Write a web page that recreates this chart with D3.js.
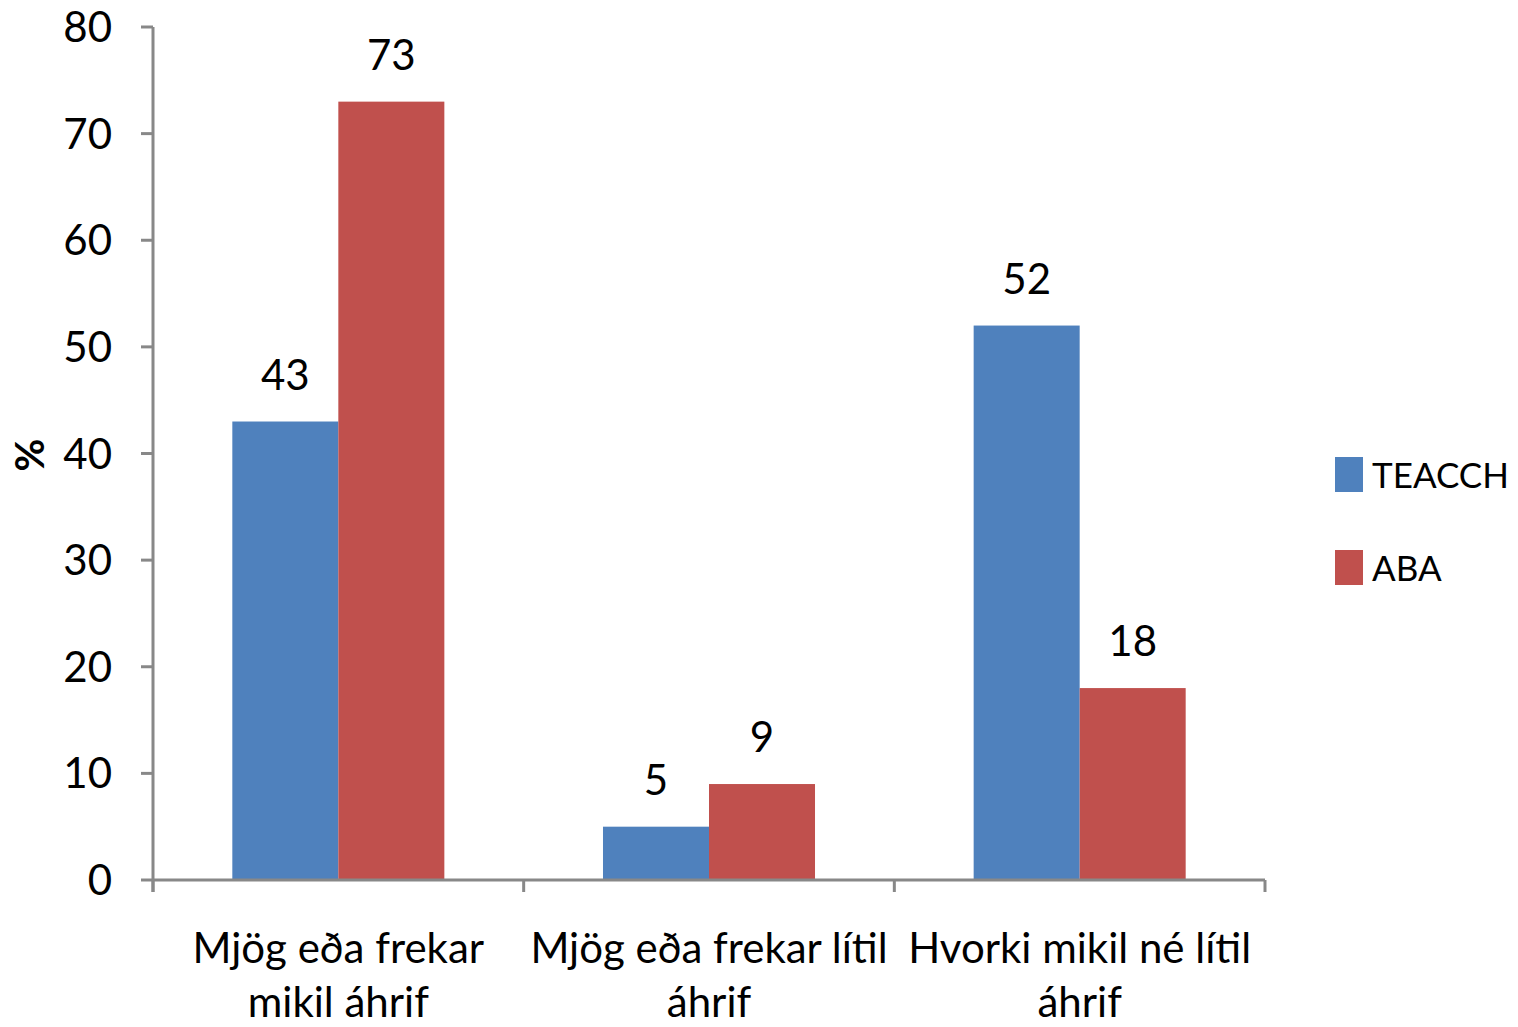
<!DOCTYPE html>
<html>
<head>
<meta charset="utf-8">
<script src="https://cdn.jsdelivr.net/npm/d3@7"></script>
<style>
  body { margin: 0; background: #fff; }
  text { font-family: Lato, "Open Sans", sans-serif; fill: #000; }
</style>
</head>
<body>
<svg id="chart" width="1518" height="1027"></svg>
<script>
// data
const categories = [["Mjög eða frekar", "mikil áhrif"], ["Mjög eða frekar lítil", "áhrif"], ["Hvorki mikil  né lítil", "áhrif"]];
const series = ["TEACCH", "ABA"];
const teacch = [43, 5, 52];
const aba = [73, 9, 18];
const yTicks = [0, 10, 20, 30, 40, 50, 60, 70, 80];
const colors = ["#4F81BD", "#C0504D"];

const svg = d3.select("#chart");
const plot = { left: 153, right: 1265, top: 27, bottom: 880 };

const catKeys = categories.map((c, i) => i);
const x0 = d3.scaleBand().domain(catKeys).range([plot.left, plot.right]).paddingInner(0.428).paddingOuter(0.214);
const x1 = d3.scaleBand().domain(series).range([0, x0.bandwidth()]);
const y = d3.scaleLinear().domain([0, 80]).range([plot.bottom, plot.top]);

const values = [teacch, aba];

// bars
series.forEach((s, si) => {
    svg.append("g").selectAll("rect")
        .data(values[si])
        .join("rect")
        .attr("x", (d, i) => x0(i) + x1(s))
        .attr("y", d => y(d))
        .attr("width", x1.bandwidth())
        .attr("height", d => plot.bottom - y(d))
        .attr("fill", colors[si]);

    svg.append("g").selectAll("text")
        .data(values[si])
        .join("text")
        .attr("x", (d, i) => x0(i) + x1(s) + x1.bandwidth() / 2)
        .attr("y", d => y(d) - 32)
        .attr("text-anchor", "middle")
        .attr("font-size", 42)
        .text(d => d);
});

// y axis
const yAxis = svg.append("g");
yAxis.append("line")
    .attr("x1", plot.left).attr("x2", plot.left).attr("y1", plot.top).attr("y2", plot.bottom + 12)
    .attr("stroke", "#888").attr("stroke-width", 3);
yAxis.selectAll(".tick")
    .data(yTicks)
    .join("line")
    .attr("x1", plot.left - 12).attr("x2", plot.left)
    .attr("y1", d => y(d)).attr("y2", d => y(d))
    .attr("stroke", "#888").attr("stroke-width", 3);
yAxis.selectAll("text")
    .data(yTicks)
    .join("text")
    .attr("x", 112)
    .attr("y", d => y(d) + 15)
    .attr("text-anchor", "end")
    .attr("font-size", 42)
    .text(d => d);

svg.append("text")
    .attr("transform", "translate(44,455) rotate(-90)")
    .attr("text-anchor", "middle")
    .attr("font-size", 40)
    .attr("font-weight", "bold")
    .text("%");

// x axis
const step = x0.step();
const xAxis = svg.append("g");
xAxis.append("line")
    .attr("x1", plot.left).attr("x2", plot.right).attr("y1", plot.bottom).attr("y2", plot.bottom)
    .attr("stroke", "#888").attr("stroke-width", 3);
xAxis.selectAll(".tick")
    .data(d3.range(categories.length + 1))
    .join("line")
    .attr("x1", d => plot.left + d * step).attr("x2", d => plot.left + d * step)
    .attr("y1", plot.bottom).attr("y2", plot.bottom + 12)
    .attr("stroke", "#888").attr("stroke-width", 3);

const catLabels = xAxis.selectAll("text")
    .data(categories)
    .join("text")
    .attr("text-anchor", "middle")
    .attr("font-size", 42);
catLabels.each(function (lines, i) {
    const cx = x0(i) + x0.bandwidth() / 2;
    lines.forEach((line, li) => {
        d3.select(this).append("tspan")
            .attr("x", cx)
            .attr("y", 963 + li * 54)
            .text(line);
    });
});

// legend
const legend = svg.append("g");
series.forEach((s, si) => {
    legend.append("rect")
        .attr("x", 1335).attr("y", 457 + si * 93)
        .attr("width", 28).attr("height", 35)
        .attr("fill", colors[si]);
    legend.append("text")
        .attr("x", 1372).attr("y", 488 + si * 93)
        .attr("font-size", 35)
        .text(s);
});
</script>
</body>
</html>
